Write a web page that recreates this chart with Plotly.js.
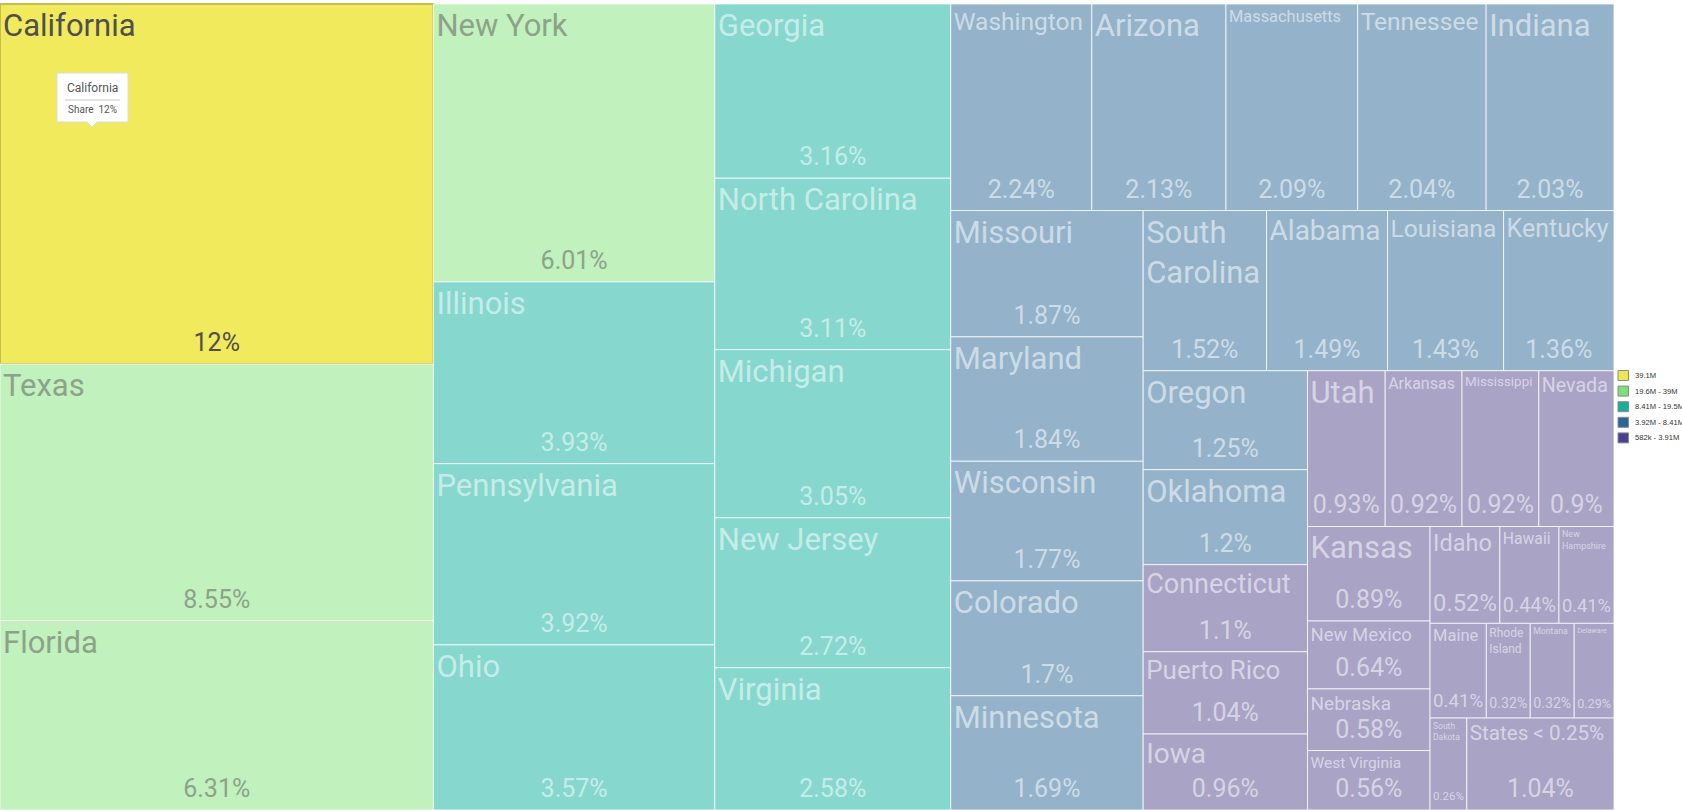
<!DOCTYPE html>
<html><head><meta charset="utf-8">
<script src="https://cdn.plot.ly/plotly-3.0.1.min.js"></script>
<style>html,body{margin:0;padding:0;background:#fff}#chart{width:1682px;height:810px}</style>
</head><body><div id="chart"></div>
<script>
// ---- data ----
const states = ['California','Texas','Florida','New York','Illinois','Pennsylvania','Ohio','Georgia','North Carolina','Michigan','New Jersey','Virginia','Washington','Arizona','Massachusetts','Tennessee','Indiana','Missouri','Maryland','Wisconsin','Colorado','Minnesota','South Carolina','Alabama','Louisiana','Kentucky','Oregon','Oklahoma','Connecticut','Puerto Rico','Iowa','Utah','Arkansas','Mississippi','Nevada','Kansas','New Mexico','Nebraska','West Virginia','Idaho','Hawaii','New Hampshire','Maine','Rhode Island','Montana','Delaware','South Dakota','States < 0.25%'];
const tileText = ['California','Texas','Florida','New York','Illinois','Pennsylvania','Ohio','Georgia','North Carolina','Michigan','New Jersey','Virginia','Washington','Arizona','Massachusetts','Tennessee','Indiana','Missouri','Maryland','Wisconsin','Colorado','Minnesota','South<br>Carolina','Alabama','Louisiana','Kentucky','Oregon','Oklahoma','Connecticut','Puerto Rico','Iowa','Utah','Arkansas','Mississippi','Nevada','Kansas','New Mexico','Nebraska','West Virginia','Idaho','Hawaii','New<br>Hampshire','Maine','Rhode<br>Island','Montana','Delaware','South<br>Dakota','States < 0.25%'];
const share = [12,8.55,6.31,6.01,3.93,3.92,3.57,3.16,3.11,3.05,2.72,2.58,2.24,2.13,2.09,2.04,2.03,1.87,1.84,1.77,1.7,1.69,1.52,1.49,1.43,1.36,1.25,1.2,1.1,1.04,0.96,0.93,0.92,0.92,0.9,0.89,0.64,0.58,0.56,0.52,0.44,0.41,0.41,0.32,0.32,0.29,0.26,1.04];
// population class (index into classLabels)
const popClass = [0,1,1,1,2,2,2,2,2,2,2,2,3,3,3,3,3,3,3,3,3,3,3,3,3,3,3,3,4,4,4,4,4,4,4,4,4,4,4,4,4,4,4,4,4,4,4,4];
const classLabels = ['39.1M','19.6M - 39M','8.41M - 19.5M','3.92M - 8.41M','582k - 3.91M'];
const tooltipName = 'California';
const tooltipShare = 'Share&nbsp;&nbsp;12%';

// ---- styles ----
const tileColors = ['#F0EA5C','#C1F1BD','#86D7CE','#94B3CA','#A9A3C6'];
const swatchColors = ['#EDE850','#7EDE78','#17AF98','#2A6699','#4B4190'];
const textColors = ['#4f4f4f','rgb(140,163,137)','rgba(255,255,255,0.55)','rgba(255,255,255,0.55)','rgba(255,255,255,0.55)'];
const nameSizeOverride = {
  'Washington': 24.5, 'Massachusetts': 16.4, 'Tennessee': 24.5, 'Alabama': 28, 'Louisiana': 24.6, 'Kentucky': 25,
  'Connecticut': 27, 'Puerto Rico': 26, 'Iowa': 28, 'Arkansas': 16, 'Mississippi': 13.4, 'Nevada': 19.6,
  'New Mexico': 18.5, 'Nebraska': 19, 'West Virginia': 15.5, 'Idaho': 23.5, 'Hawaii': 15.7, 'New Hampshire': 9,
  'Maine': 16.5, 'Rhode Island': 12, 'Montana': 8.7, 'Delaware': 7.2, 'South Dakota': 8.5, 'States < 0.25%': 20.6
};
const W = 1682, H = 810;
const px = x => x / W, py = y => 1 - y / H;

const colors = popClass.map(c => tileColors[c]);
const txtCol = popClass.map(c => textColors[c]);
const nameSize = states.map(s => nameSizeOverride[s] || 31);
const lineCol = popClass.map((c, i) => i === 0 ? 'rgb(196,190,78)' : 'rgba(255,255,255,0.75)');
const lineW = popClass.map((c, i) => i === 0 ? 2 : 1);
const parents = states.map(() => '');

const common = {
  type: 'treemap', labels: states, parents: parents, values: share,
  sort: false, hoverinfo: 'skip',
  tiling: {packing: 'squarify', squarifyratio: 1.618034, pad: 0},
  pathbar: {visible: false}
};
const tiles = Object.assign({}, common, {
  domain: {x: [0, 1614 / W], y: [0, 1 - 4 / H]},
  text: tileText, texttemplate: '%{text}', textposition: 'top left',
  textfont: {family: 'Roboto', size: nameSize, color: txtCol},
  marker: {colors: colors, line: {color: lineCol, width: lineW}, pad: {t: 0, l: 0, r: 0, b: 0}}
});
const pcts = Object.assign({}, common, {
  domain: {x: [0, 1614 / W], y: [4 / H, 1]},
  texttemplate: '%{value}%', textposition: 'bottom center',
  textfont: {family: 'Roboto', size: 25, color: txtCol},
  marker: {colors: states.map(() => 'rgba(0,0,0,0)'), line: {width: 0}, pad: {t: 0, l: 0, r: 0, b: 0}}
});

const shapes = [], annotations = [];
// legend
classLabels.forEach((lab, i) => {
  const cy = 375.5 + i * 15.6;
  shapes.push({type: 'rect', xref: 'paper', yref: 'paper', x0: px(1618), x1: px(1628.5), y0: py(cy - 5), y1: py(cy + 5),
    fillcolor: swatchColors[i], line: {color: '#8a8a8a', width: 1}});
  annotations.push({xref: 'paper', yref: 'paper', x: px(1633.5), y: py(cy), xanchor: 'left', yanchor: 'middle',
    text: lab, showarrow: false, borderpad: 0, font: {family: 'Liberation Sans', size: 7.6, color: '#333'}});
});
// tooltip
shapes.push({type: 'path', xref: 'paper', yref: 'paper',
  path: 'M' + px(57) + ',' + py(73) + ' L' + px(128) + ',' + py(73) + ' L' + px(128) + ',' + py(122) +
        ' L' + px(97) + ',' + py(122) + ' L' + px(92) + ',' + py(127) + ' L' + px(87) + ',' + py(122) +
        ' L' + px(57) + ',' + py(122) + ' Z',
  fillcolor: '#ffffff', line: {color: '#dcdcdc', width: 1}});
shapes.push({type: 'line', xref: 'paper', yref: 'paper', x0: px(65), x1: px(120), y0: py(100), y1: py(100),
  line: {color: '#c8c8c8', width: 1}});
annotations.push({xref: 'paper', yref: 'paper', x: px(92.5), y: py(88), xanchor: 'center', yanchor: 'middle',
  text: tooltipName, showarrow: false, font: {family: 'Roboto', size: 12, color: '#555'}});
annotations.push({xref: 'paper', yref: 'paper', x: px(92.5), y: py(109), xanchor: 'center', yanchor: 'middle',
  text: tooltipShare, showarrow: false, font: {family: 'Roboto', size: 10, color: '#555'}});

Plotly.newPlot('chart', [tiles, pcts], {
  width: W, height: H, margin: {l: 0, r: 0, t: 0, b: 0},
  paper_bgcolor: '#ffffff', showlegend: false,
  shapes: shapes, annotations: annotations
}, {displayModeBar: false, staticPlot: true});
</script>
</body></html>
